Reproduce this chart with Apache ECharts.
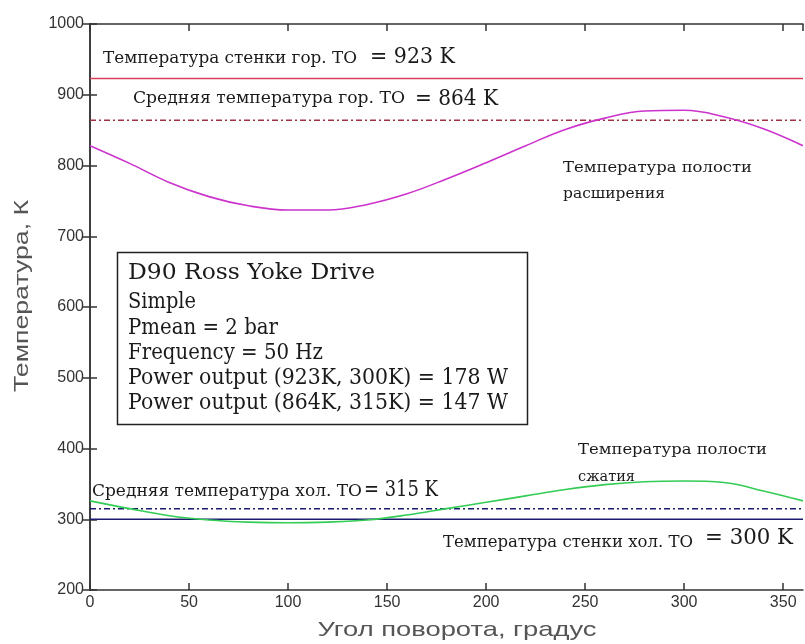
<!DOCTYPE html>
<html><head><meta charset="utf-8">
<script src="https://cdn.jsdelivr.net/npm/echarts@6/dist/echarts.min.js"></script>
<style>html,body{margin:0;padding:0;background:#fff}#c{width:805px;height:644px}</style>
</head><body><div id="c"></div>
<script>
const angles = [0,20,40,60,80,100,120,140,160,180,200,220,240,260,280,300,320,340,360];
const expansionTemp = [828,803,776,756,743,737,737,745,760,781,804,828,851,867,877,878,869,852,828];
const compressionTemp = [326,315,305,299,296,295,296,299,306,315,324,333,342,349,353,354,352,340,326];
const wallHot = 923, meanHot = 864, meanCold = 315, wallCold = 300;
const infoLines = ['Simple','Pmean = 2 bar','Frequency = 50 Hz','Power output (923K, 300K) = 178 W','Power output (864K, 315K) = 147 W'];

const serifName = '"DejaVu Serif", "Liberation Serif", serif';
const sansName = '"Liberation Sans", Arial, sans-serif';

function pairs(xs, ys){ return xs.map((x,i)=>[x, ys[i]]); }
function hline(v){ return [[angles[0], v],[angles[angles.length-1], v]]; }

const mctx = document.createElement('canvas').getContext('2d');
function measure(text, font){ mctx.font = font; return mctx.measureText(text).width; }
// text placed with left edge x, vertical centre y, stretched to a target width
function label(text, x, y, size, width, opts){
  opts = opts || {};
  const fam = opts.family || serifName;
  const font = size + 'px ' + fam;
  const sx = width / measure(text, font);
  return {type:'text', x:x, y:y, scaleX:sx, rotation:opts.rotation||0, z:100,
    style:{text:text, font:font, fill:opts.fill||'#1a1a1a', align:opts.align||'left', verticalAlign:'middle', textVerticalAlign:'middle'}};
}

const chart = echarts.init(document.getElementById('c'));
const axisLine = {show:true, lineStyle:{color:'#333', width:1.5}};
const tick = {show:true, inside:true, length:7, lineStyle:{color:'#333', width:1.5}};
const tickFont = {color:'#333', fontFamily:sansName, fontSize:16};
chart.setOption({
  animation:false,
  grid:{left:90, right:2, top:24, bottom:54, show:false},
  xAxis:[{
    type:'value', min:0, max:360, interval:50, position:'bottom',
    axisLine, axisTick:tick, splitLine:{show:false},
    axisLabel:Object.assign({showMaxLabel:false, margin:5, formatter:v=>String(v)}, tickFont)
  },{
    type:'value', min:0, max:360, interval:50, position:'top',
    axisLine, axisTick:tick, splitLine:{show:false}, axisLabel:{show:false}
  }],
  yAxis:[{
    type:'value', min:200, max:1000, interval:100, position:'left',
    axisLine, axisTick:tick, splitLine:{show:false},
    axisLabel:Object.assign({margin:6, formatter:v=>String(v)}, tickFont)
  },{
    type:'value', min:200, max:1000, interval:100, position:'right',
    axisLine, axisTick:tick, splitLine:{show:false}, axisLabel:{show:false}
  }],
  series:[
    {type:'line', data:hline(wallHot), symbol:'none', lineStyle:{color:'#d8405a', width:1.5}},
    {type:'line', data:hline(meanHot), symbol:'none', lineStyle:{color:'#a03040', width:1.5, type:[6,3,2,3]}},
    {type:'line', data:hline(meanCold), symbol:'none', lineStyle:{color:'#1a1a6e', width:1.5, type:[6,3,2,3]}},
    {type:'line', data:hline(wallCold), symbol:'none', lineStyle:{color:'#1a1a6e', width:1.5}},
    {type:'line', data:pairs(angles, expansionTemp), smooth:0.4, symbol:'none', lineStyle:{color:'#cc33cc', width:1.6}},
    {type:'line', data:pairs(angles, compressionTemp), smooth:0.4, symbol:'none', lineStyle:{color:'#33cc55', width:1.6}}
  ],
  graphic:[
    label('Температура стенки гор. ТО', 103, 59, 16, 254),
    label('= ' + wallHot + ' K', 370, 57, 22, 85),
    label('Средняя температура гор. ТО', 133, 99, 16, 272),
    label('= ' + meanHot + ' K', 415, 99, 22, 83),
    label('Температура полости', 563, 168, 15, 189),
    label('расширения', 563, 194, 15, 102),
    {type:'rect', shape:{x:117.5, y:252.5, width:410, height:172}, style:{fill:'#fff', stroke:'#222', lineWidth:1.5}, z:90},
    label('D90 Ross Yoke Drive', 128, 273, 22, 247),
    label(infoLines[0], 128, 302, 22, 68),
    label(infoLines[1], 128, 328, 22, 150),
    label(infoLines[2], 128, 353, 22, 195),
    label(infoLines[3], 128, 378, 22, 380),
    label(infoLines[4], 128, 403, 22, 380),
    label('Температура полости', 578, 450, 15, 189),
    label('сжатия', 578, 477, 15, 57),
    label('Средняя температура хол. ТО', 92, 492, 16, 270),
    label('= ' + meanCold + ' K', 364, 490, 22, 74),
    label('Температура стенки хол. ТО', 443, 543, 16, 250),
    label('= ' + wallCold + ' K', 705, 538, 22, 88),
    label('Угол поворота, градус', 457, 630, 21, 279, {family:sansName, fill:'#555', align:'center'}),
    label('Температура, К', 22, 296, 20, 192, {family:sansName, fill:'#555', align:'center', rotation:Math.PI/2})
  ]
});
</script></body></html>
